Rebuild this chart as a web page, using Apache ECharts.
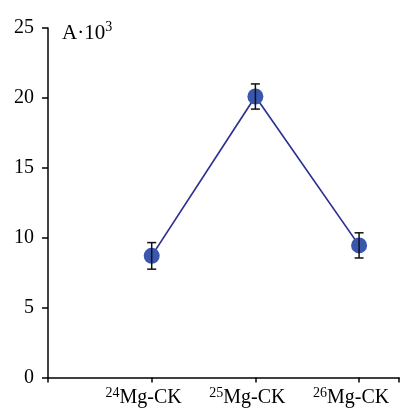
<!DOCTYPE html>
<html><head><meta charset="utf-8">
<script src="https://cdn.jsdelivr.net/npm/echarts@6/dist/echarts.min.js"></script>
<style>html,body{margin:0;padding:0;background:#fff}#c{width:402px;height:408px}</style>
</head><body><div id="c"></div>
<script>
var isotopes = ['24', '25', '26'];
var categories = ['Mg-CK', 'Mg-CK', 'Mg-CK'];
var positions = [1, 2, 3];
var values = [8.7, 20.1, 9.45];
var errors = [0.95, 0.9, 0.9];
var yTicks = [0, 5, 10, 15, 20, 25];

var chart = echarts.init(document.getElementById('c'));
var font = 'Liberation Serif';
var lineData = positions.map(function (p, i) { return [p, values[i]]; });
var errData = positions.map(function (p, i) { return [p, values[i] - errors[i], values[i] + errors[i]]; });

chart.setOption({
  animation: false,
  grid: { left: 48, right: 2, top: 28, bottom: 30 },
  xAxis: {
    type: 'value', min: 0, max: 3.385, interval: 1,
    axisLine: { lineStyle: { color: '#000', width: 1.5 } },
    axisTick: { show: true, length: 5, lineStyle: { color: '#000', width: 1.5 } },
    splitLine: { show: false },
    axisLabel: {
      margin: 9,
      padding: [0, 16, 0, 0],
      formatter: function (v) {
        var i = positions.indexOf(v);
        if (i < 0) return '';
        return '{sup|' + isotopes[i] + '}{main|' + categories[i] + '}';
      },
      rich: {
        sup: { fontFamily: font, fontSize: 14, color: '#000', padding: [0, 0, 9, 0] },
        main: { fontFamily: font, fontSize: 20, color: '#000' }
      }
    }
  },
  yAxis: {
    type: 'value', min: 0, max: 25, interval: 5,
    axisLine: { show: true, lineStyle: { color: '#000', width: 1.5 } },
    axisTick: { show: true, length: 6, lineStyle: { color: '#000', width: 1.5 } },
    splitLine: { show: false },
    axisLabel: {
      margin: 14, fontFamily: font, fontSize: 20, color: '#000',
      formatter: function (v) { return yTicks.indexOf(v) >= 0 ? String(v) : ''; }
    }
  },
  graphic: [{
    type: 'text', left: 62, top: 20,
    style: {
      text: '{m|A·10}{s|3}',
      rich: {
        m: { fontFamily: font, fontSize: 21, fill: '#000' },
        s: { fontFamily: font, fontSize: 14, fill: '#000', padding: [0, 0, 12, 0] }
      }
    }
  }],
  series: [{
    type: 'line', data: lineData,
    symbol: 'circle', symbolSize: 16,
    lineStyle: { color: '#2e3192', width: 1.7 },
    itemStyle: { color: '#3a56ad' },
    z: 3
  }, {
    type: 'custom', data: errData, z: 4,
    renderItem: function (params, api) {
      var x = api.value(0);
      var lo = api.coord([x, api.value(1)]);
      var hi = api.coord([x, api.value(2)]);
      var hw = 4.5;
      var st = { stroke: '#111', lineWidth: 1.5 };
      return {
        type: 'group', children: [
          { type: 'line', shape: { x1: lo[0], y1: lo[1], x2: hi[0], y2: hi[1] }, style: st },
          { type: 'line', shape: { x1: lo[0] - hw, y1: lo[1], x2: lo[0] + hw, y2: lo[1] }, style: st },
          { type: 'line', shape: { x1: hi[0] - hw, y1: hi[1], x2: hi[0] + hw, y2: hi[1] }, style: st }
        ]
      };
    }
  }]
});
</script></body></html>
